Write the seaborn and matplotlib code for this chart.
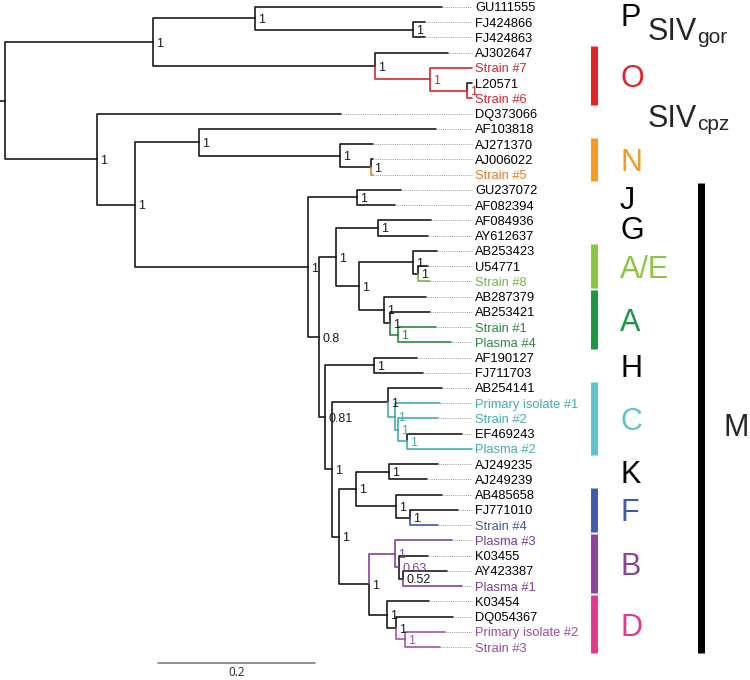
import matplotlib
matplotlib.use("Agg")
import pandas as pd
import matplotlib.pyplot as plt
import seaborn as sns

# ------------------------------------------------------------
# Tree data: leaves (top to bottom), tip depth (subst./site), clade
# ------------------------------------------------------------
leaf_names = ["GU111555", "FJ424866", "FJ424863", "AJ302647", "Strain #7",
              "L20571", "Strain #6", "DQ373066", "AF103818", "AJ271370",
              "AJ006022", "Strain #5", "GU237072", "AF082394", "AF084936",
              "AY612637", "AB253423", "U54771", "Strain #8", "AB287379",
              "AB253421", "Strain #1", "Plasma #4", "AF190127", "FJ711703",
              "AB254141", "Primary isolate #1", "Strain #2", "EF469243",
              "Plasma #2", "AJ249235", "AJ249239", "AB485658", "FJ771010",
              "Strain #4", "Plasma #3", "K03455", "AY423387", "Plasma #1",
              "K03454", "DQ054367", "Primary isolate #2", "Strain #3"]
leaf_depth = [0.557, 0.535, 0.535, 0.564, 0.595,
              0.595, 0.595, 0.428, 0.549, 0.469,
              0.469, 0.469, 0.505, 0.497, 0.543,
              0.539, 0.550, 0.539, 0.541, 0.536,
              0.541, 0.549, 0.568, 0.525, 0.533,
              0.557, 0.554, 0.552, 0.582,
              0.595, 0.552, 0.538, 0.557, 0.577,
              0.552, 0.569, 0.539, 0.563, 0.582,
              0.540, 0.571, 0.561, 0.554]
leaf_clade = ["k", "k", "k", "k", "O",
              "k", "O", "k", "k", "k",
              "k", "N", "k", "k", "k",
              "k", "k", "k", "AE", "k",
              "k", "A", "A", "k", "k",
              "k", "C", "C", "k",
              "C", "k", "k", "k", "k",
              "F", "B", "k", "k", "B",
              "k", "k", "D", "D"]

# internal nodes: children, depth, posterior support, branch colour
node_names = ["root", "n153", "nP", "nFJ", "nO", "nO2", "nO3",
              "n97", "n135", "n199", "nN", "nN2",
              "nM", "nJ", "n08", "nGAE", "nG", "nAAE", "nAE", "nAE2",
              "nA1", "nA2", "nA3", "n081", "nH", "n332",
              "nC1", "nC2", "nC3", "nC4", "nKFBD", "nKF", "nK", "nF", "nF2",
              "nBD", "nB1", "nB2", "nB3", "nD1", "nD2", "nD3"]
node_children = [["n153", "n97"], ["nP", "nO"], ["GU111555", "nFJ"],
                 ["FJ424866", "FJ424863"], ["AJ302647", "nO2"],
                 ["Strain #7", "nO3"], ["L20571", "Strain #6"],
                 ["DQ373066", "n135"], ["n199", "nM"], ["AF103818", "nN"],
                 ["AJ271370", "nN2"], ["AJ006022", "Strain #5"],
                 ["nJ", "n08"], ["GU237072", "AF082394"], ["nGAE", "n081"],
                 ["nG", "nAAE"], ["AF084936", "AY612637"], ["nAE", "nA1"],
                 ["AB253423", "nAE2"], ["U54771", "Strain #8"],
                 ["AB287379", "nA2"], ["AB253421", "nA3"],
                 ["Strain #1", "Plasma #4"], ["nH", "n332"],
                 ["AF190127", "FJ711703"], ["nC1", "nKFBD"],
                 ["AB254141", "nC2"], ["Primary isolate #1", "nC3"],
                 ["Strain #2", "nC4"], ["EF469243", "Plasma #2"],
                 ["nKF", "nBD"], ["nK", "nF"], ["AJ249235", "AJ249239"],
                 ["AB485658", "nF2"], ["FJ771010", "Strain #4"],
                 ["nB1", "nD1"], ["Plasma #3", "nB2"], ["K03455", "nB3"],
                 ["AY423387", "Plasma #1"], ["K03454", "nD2"],
                 ["DQ054367", "nD3"], ["Primary isolate #2", "Strain #3"]]
node_depth = [0.0, 0.1885, 0.3185, 0.5197, 0.4713, 0.5414, 0.5885,
              0.1172, 0.1656, 0.2471, 0.4268, 0.4662,
              0.386, 0.4484, 0.400, 0.4217, 0.4752, 0.451, 0.5197, 0.5261,
              0.4828, 0.4904, 0.5006, 0.4076, 0.4701, 0.4166,
              0.4879, 0.4968, 0.5006, 0.5121, 0.4255, 0.4471, 0.4892, 0.4981, 0.5159,
              0.4637, 0.4968, 0.5019, 0.507, 0.4866, 0.4981, 0.5096]
node_support = ["", "1", "1", "1", "1", "1", "1",
                "1", "1", "1", "1", "1",
                "1", "1", "0.8", "1", "1", "1", "1", "1",
                "1", "1", "1", "0.81", "1", "1",
                "1", "1", "1", "1", "1", "1", "1", "1", "1",
                "1", "1", "0.63", "0.52", "1", "1", "1"]
node_clade = ["k", "k", "k", "k", "k", "O", "O",
              "k", "k", "k", "k", "k",
              "k", "k", "k", "k", "k", "k", "k", "k",
              "k", "k", "A", "k", "k", "k",
              "k", "C", "C", "C", "k", "k", "k", "k", "k",
              "k", "B", "B", "k", "k", "k", "D"]

# subtype annotations on the right
bar_letters = ["O", "N", "A/E", "A", "C", "F", "B", "D"]
bar_first = ["AJ302647", "AJ271370", "AB253423", "AB287379", "AB254141",
             "AB485658", "Plasma #3", "K03454"]
bar_last = ["Strain #6", "Strain #5", "Strain #8", "Plasma #4", "Plasma #2",
            "Strain #4", "Plasma #1", "Strain #3"]
plain_letters = ["P", "J", "G", "H", "K"]
plain_first = ["GU111555", "GU237072", "AF084936", "AF190127", "AJ249235"]
plain_last = ["FJ424866", "AF082394", "AY612637", "FJ711703", "AJ249239"]

scale_length = 0.2

# colours
branch_pal = {"k": "#1a1a1a", "O": "#d8262e", "N": "#ec7a2a", "AE": "#73b843",
              "A": "#2a8a3c", "C": "#41adb0", "F": "#3d58a6", "B": "#7d4399",
              "D": "#a552a7"}
text_pal = {"k": "#000000", "O": "#d8262e", "N": "#ec7a2a", "AE": "#73b843",
            "A": "#2a8a3c", "C": "#41adb0", "F": "#3d58a6", "B": "#7a3d97",
            "D": "#9c4aa2"}
letter_pal = {"O": "#e4222a", "N": "#f59a22", "A/E": "#8cc540", "A": "#1e9545",
              "C": "#5fc3c8", "F": "#3d5ba8", "B": "#8a4399", "D": "#e13a8d"}

# ------------------------------------------------------------
# Layout
# ------------------------------------------------------------
sns.set_theme(style="white")
plt.rcParams["font.family"] = ["Liberation Sans", "DejaVu Sans"]

leaf_y = {n: i for i, n in enumerate(leaf_names)}
depth = dict(zip(leaf_names, leaf_depth))
depth.update(zip(node_names, node_depth))
clade_of = dict(zip(leaf_names, leaf_clade))
clade_of.update(zip(node_names, node_clade))
children = dict(zip(node_names, node_children))


def ypos(n):
    if n in leaf_y:
        return leaf_y[n]
    ch = children[n]
    return (ypos(ch[0]) + ypos(ch[-1])) / 2


rows = []
edge = 0
for n in node_names:
    x0, y0 = depth[n], ypos(n)
    for c in children[n]:
        x1, y1 = depth[c], ypos(c)
        for x, y in [(x0, y0), (x0, y1), (x1, y1)]:
            rows.append((edge, clade_of[c], x, y))
        edge += 1
root_y = ypos("root")
rows += [(edge, "k", -0.0064, root_y), (edge, "k", 0.0, root_y)]
seg = pd.DataFrame(rows, columns=["edge", "clade", "x", "y"])

fig = plt.figure(figsize=(7.5, 6.8), dpi=100)
ax = fig.add_axes([0, 0, 1, 1])
sns.lineplot(data=seg, x="x", y="y", units="edge", estimator=None, sort=False,
             hue="clade", palette=branch_pal, linewidth=1.2, legend=False, ax=ax)

# dotted leaders + tip labels
lead_end = 0.5949
for i, (name, d, cl) in enumerate(zip(leaf_names, leaf_depth, leaf_clade)):
    if d < lead_end - 0.002:
        ax.plot([d, lead_end], [i, i], color="#9a9a9a", lw=0.7,
                ls=(0, (1, 1.2)))
    ax.text(lead_end + 0.004, i, name, color=text_pal[cl], fontsize=9.3,
            va="center_baseline", ha="left")

# posterior support
for n, s, cl in zip(node_names, node_support, node_clade):
    if s:
        ax.text(depth[n] + 0.004, ypos(n), s, color=branch_pal[cl], fontsize=9,
                va="center_baseline", ha="left")

# subtype bars and letters
bar_x, letter_x = 0.7497, 0.7834
for lab, a, b in zip(bar_letters, bar_first, bar_last):
    y0, y1 = leaf_y[a] - 0.42, leaf_y[b] + 0.42
    ax.plot([bar_x, bar_x], [y0, y1], color=letter_pal[lab], lw=5,
            solid_capstyle="butt")
    ax.text(letter_x, (leaf_y[a] + leaf_y[b]) / 2, lab, color=letter_pal[lab],
            fontsize=22, va="center_baseline", ha="left")
for lab, a, b in zip(plain_letters, plain_first, plain_last):
    ax.text(letter_x, (leaf_y[a] + leaf_y[b]) / 2, lab, color="black",
            fontsize=22, va="center_baseline", ha="left")

# group M
m0, m1 = leaf_y["GU237072"] - 0.42, leaf_y["Strain #3"] + 0.42
ax.plot([0.886, 0.886], [m0, m1], color="black", lw=5, solid_capstyle="butt")
ax.text(0.915, (m0 + m1) / 2 + 0.4, "M", fontsize=22, va="center_baseline",
        ha="left")

# SIV labels with subscript
for base_y, sub in [(2.17, "gor"), (7.87, "cpz")]:
    t = ax.text(0.819, base_y, "SIV", fontsize=22, va="baseline", ha="left")
    ax.annotate(sub, xy=(1, 0), xycoords=t, fontsize=15, va="bottom", ha="left")

# scale bar
sb_y = 43.05
ax.plot([0.195, 0.195 + scale_length], [sb_y, sb_y], color="#7f7f7f", lw=1.2)
ax.text(0.195 + scale_length / 2, 43.55, f"{scale_length:g}", fontsize=8.5,
        family=["Open Sans", "DejaVu Sans"], ha="center", va="center_baseline")

ax.set_xlim(-0.0064, 0.949)
ax.set_ylim(44.16, -0.459)
ax.axis("off")

fig.savefig("out.png", dpi=100)
